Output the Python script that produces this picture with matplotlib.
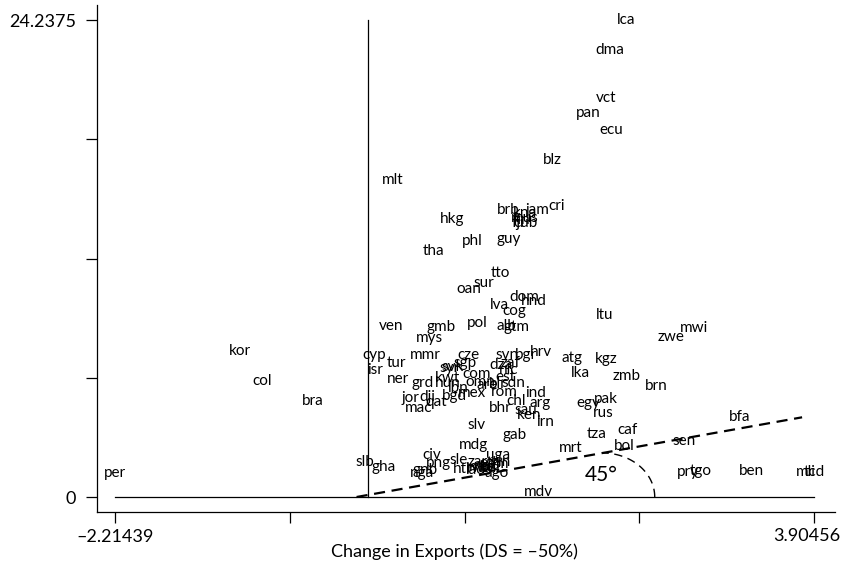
import numpy as np
import matplotlib
matplotlib.use("Agg")
import matplotlib.pyplot as plt

plt.rcParams['font.family'] = ['Lato', 'DejaVu Sans']

# country codes with (change in exports, y value)
codes = ["lca", "dma", "vct", "pan", "ecu", "blz", "mlt", "hkg", "brb", "kna",
         "jam", "cri", "mus", "fin", "fji", "cub", "phl", "guy", "tha", "tto",
         "sur", "oan", "dom", "hnd", "lva", "cog", "pol", "alb", "gtm", "ltu",
         "mwi", "zwe", "ven", "gmb", "mys", "kor", "col", "bra", "per", "cyp",
         "isr", "tur", "mmr", "ner", "grd", "kwt", "hun", "jor", "dji", "qat",
         "mac", "bgd", "lbn", "mex", "cze", "svk", "syr", "sgp", "com", "omn",
         "are", "est", "dza", "zaf", "nic", "svn", "bgr", "hrv", "sdn", "blr",
         "rom", "ind", "bhr", "chl", "arg", "sau", "ken", "irn", "atg", "lka",
         "kgz", "zmb", "brn", "pak", "egy", "rus", "bfa", "caf", "tza", "sen",
         "bol", "mrt", "pry", "tgo", "ben", "mli", "tcd", "gab", "slv", "mdg",
         "civ", "sle", "png", "gnb", "nga", "hti", "slb", "gha", "uga", "zar",
         "moz", "eth", "rwa", "npl", "bdi", "yem", "ago", "lao", "gin", "mdv"]
dx = [2.26, 2.12, 2.08, 1.93, 2.13, 1.61, 0.22, 0.74, 1.23, 1.37,
      1.48, 1.65, 1.37, 1.34, 1.31, 1.38, 0.91, 1.23, 0.57, 1.16,
      1.01, 0.88, 1.37, 1.45, 1.15, 1.28, 0.96, 1.21, 1.30, 2.07,
      2.85, 2.65, 0.20, 0.64, 0.54, -1.12, -0.93, -0.48, -2.21439, 0.05,
      0.06, 0.25, 0.50, 0.26, 0.48, 0.70, 0.70, 0.37, 0.52, 0.60,
      0.44, 0.76, 0.79, 0.91, 0.88, 0.74, 0.71, 0.85, 0.95, 0.98,
      1.04, 1.20, 1.16, 1.25, 1.23, 1.22, 1.38, 1.51, 1.27, 1.14,
      1.19, 1.47, 1.16, 1.30, 1.51, 1.38, 1.41, 1.55, 1.79, 1.86,
      2.09, 2.26, 2.52, 2.08, 1.93, 2.06, 3.25, 2.27, 2.00, 2.77,
      2.24, 1.77, 2.80, 2.91, 3.36, 3.83, 3.90456, 1.28, 0.95, 0.92,
      0.56, 0.79, 0.62, 0.50, 0.47, 0.82, -0.03, 0.14, 1.14, 0.96,
      1.01, 1.07, 0.98, 1.02, 1.07, 1.11, 1.13, 0.94, 1.16, 1.49]
dy = [24.2375, 22.71, 20.27, 19.51, 18.65, 17.12, 16.11, 14.13, 14.58, 14.43,
      14.58, 14.79, 14.18, 14.10, 13.92, 13.92, 13.01, 13.11, 12.50, 11.38,
      10.87, 10.57, 10.16, 9.96, 9.76, 9.45, 8.84, 8.69, 8.64, 9.25,
      8.59, 8.13, 8.69, 8.64, 8.08, 7.42, 5.89, 4.88, 1.22, 7.22,
      6.45, 6.81, 7.22, 6.00, 5.79, 6.05, 5.79, 5.03, 5.08, 4.83,
      4.52, 5.13, 5.54, 5.28, 7.22, 6.61, 6.56, 6.81, 6.25, 5.84,
      5.69, 6.10, 6.71, 6.81, 6.45, 7.22, 7.22, 7.37, 5.79, 5.74,
      5.34, 5.28, 4.52, 4.88, 4.78, 4.42, 4.17, 3.81, 7.06, 6.30,
      7.01, 6.15, 5.64, 4.98, 4.78, 4.27, 4.07, 3.40, 3.20, 2.85,
      2.59, 2.49, 1.27, 1.32, 1.32, 1.27, 1.27, 3.15, 3.66, 2.64,
      2.13, 1.88, 1.73, 1.37, 1.22, 1.42, 1.78, 1.52, 2.13, 1.78,
      1.52, 1.73, 1.47, 1.58, 1.47, 1.68, 1.22, 1.37, 1.78, 0.25]

x_min, x_max = -2.21439, 3.90456
y_min, y_max = 0, 24.2375

fig = plt.figure(figsize=(8.41, 5.66), dpi=100)
ax = fig.add_axes([97 / 841, 54 / 566, 738 / 841, 507 / 566])

for c, x, y in zip(codes, dx, dy):
    ax.text(x, y, c, ha='center', va='center', fontsize=11, color='black')

# reference lines
ax.plot([x_min, x_max], [0, 0], color='black', lw=0.9)
ax.plot([0, 0], [0, y_max], color='black', lw=0.9)
ax.plot([-0.1, 3.8], [0, 4.05], color='black', lw=1.6, ls=(0, (5, 3)))
t = np.linspace(0, np.pi / 2, 60)
ax.plot(2.05 + 0.46 * np.cos(t), 2.24 * np.sin(t), color='black', lw=1.0,
        ls=(0, (6, 4)))
ax.text(1.90, 1.12, "45°", fontsize=15, ha='left', va='center')

ax.set_xlim(-2.372, 4.088)
ax.set_ylim(-0.762, 25.0)

xt = np.linspace(x_min, x_max, 5)
ax.set_xticks(xt)
ax.set_xticklabels(["\u20132.21439", "", "", "", ""])
# last x label pushed left a little so it stays inside the figure
ax.annotate("3.90456", xy=(x_max, 0), xycoords=('data', 'axes fraction'),
            xytext=(26, -16), textcoords='offset pixels',
            ha='right', va='top', fontsize=13)
yt = np.linspace(y_min, y_max, 5)
ax.set_yticks(yt)
ax.set_yticklabels(["0", "", "", "", "24.2375"])
ax.tick_params(axis='both', length=8, width=0.9, labelsize=13, direction='out')
ax.tick_params(axis='x', pad=4)
ax.tick_params(axis='y', pad=7)

for s in ['top', 'right']:
    ax.spines[s].set_visible(False)
for s in ['left', 'bottom']:
    ax.spines[s].set_linewidth(0.9)

ax.set_xlabel("Change in Exports (DS = \u201350%)", fontsize=13)
ax.xaxis.set_label_coords(0.485, -0.062)

fig.savefig("out.png", dpi=100)
